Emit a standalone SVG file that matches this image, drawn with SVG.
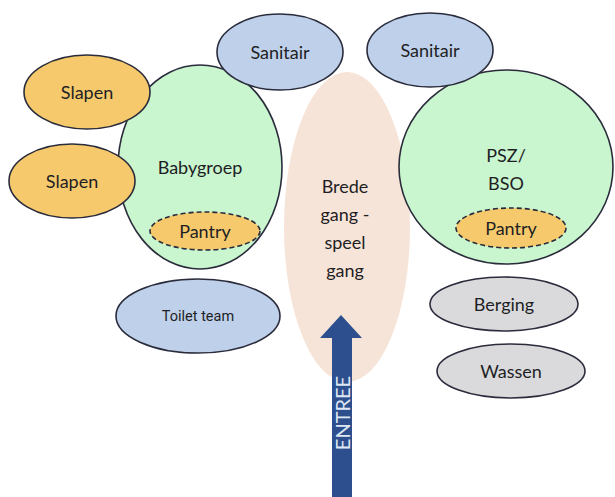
<svg xmlns="http://www.w3.org/2000/svg" width="615" height="497" viewBox="0 0 615 497">
<style>
.n{stroke:#2a2c3c;stroke-width:1.6}
.y{fill:#f6ca6c}
.g{fill:#c9f5cf}
.b{fill:#bfd1ea}
.gr{fill:#dadadd}
.d{stroke-dasharray:5 3}
text{font-family:Lato,"Liberation Sans",sans-serif;font-size:18px;fill:#1e1e24;text-anchor:middle;dominant-baseline:central}
</style>
<rect width="615" height="497" fill="#ffffff"/>
<g id="brede">
<ellipse cx="347" cy="227" rx="63" ry="155" fill="#f6e4d8"/>
<text x="345" y="186">Brede</text>
<text x="345" y="214">gang -</text>
<text x="345" y="242">speel</text>
<text x="345" y="270">gang</text>
</g>
<g id="babygroep">
<ellipse class="n g" cx="200" cy="167" rx="82" ry="102"/>
<text x="200" y="167">Babygroep</text>
</g>
<g id="pantry1">
<ellipse class="n y d" cx="205" cy="231" rx="55" ry="19"/>
<text x="205" y="231">Pantry</text>
</g>
<g id="sanitair1">
<ellipse class="n b" cx="280" cy="52" rx="63" ry="38"/>
<text x="280" y="52">Sanitair</text>
</g>
<g id="slapen1">
<ellipse class="n y" cx="87" cy="92" rx="63" ry="37"/>
<text x="87" y="92">Slapen</text>
</g>
<g id="slapen2">
<ellipse class="n y" cx="72" cy="181" rx="63" ry="37"/>
<text x="72" y="181">Slapen</text>
</g>
<g id="psz">
<ellipse class="n g" cx="506" cy="167" rx="107" ry="97"/>
<text x="506" y="155">PSZ/</text>
<text x="506" y="183">BSO</text>
</g>
<g id="pantry2">
<ellipse class="n y d" cx="511" cy="228" rx="55" ry="20"/>
<text x="511" y="228">Pantry</text>
</g>
<g id="sanitair2">
<ellipse class="n b" cx="430" cy="50" rx="63" ry="37"/>
<text x="430" y="50">Sanitair</text>
</g>
<g id="toilet">
<ellipse class="n b" cx="198" cy="316" rx="82" ry="37"/>
<text x="198" y="316" style="font-family:Roboto,'Liberation Sans',sans-serif;font-size:14.5px">Toilet team</text>
</g>
<g id="berging">
<ellipse class="n gr" cx="504" cy="304" rx="74" ry="27"/>
<text x="504" y="304">Berging</text>
</g>
<g id="wassen">
<ellipse class="n gr" cx="511" cy="371" rx="74" ry="27"/>
<text x="511" y="371">Wassen</text>
</g>
<g id="connectors">
<g id="entree">
<polygon points="341,315 362,338 352,338 352,497 332,497 332,338 320,338" fill="#2e4f8e"/>
<text x="0" y="0" transform="translate(342,413) rotate(-90)" style="fill:#dfe7f5;font-size:20px">ENTREE</text>
</g>
</g>
</svg>
